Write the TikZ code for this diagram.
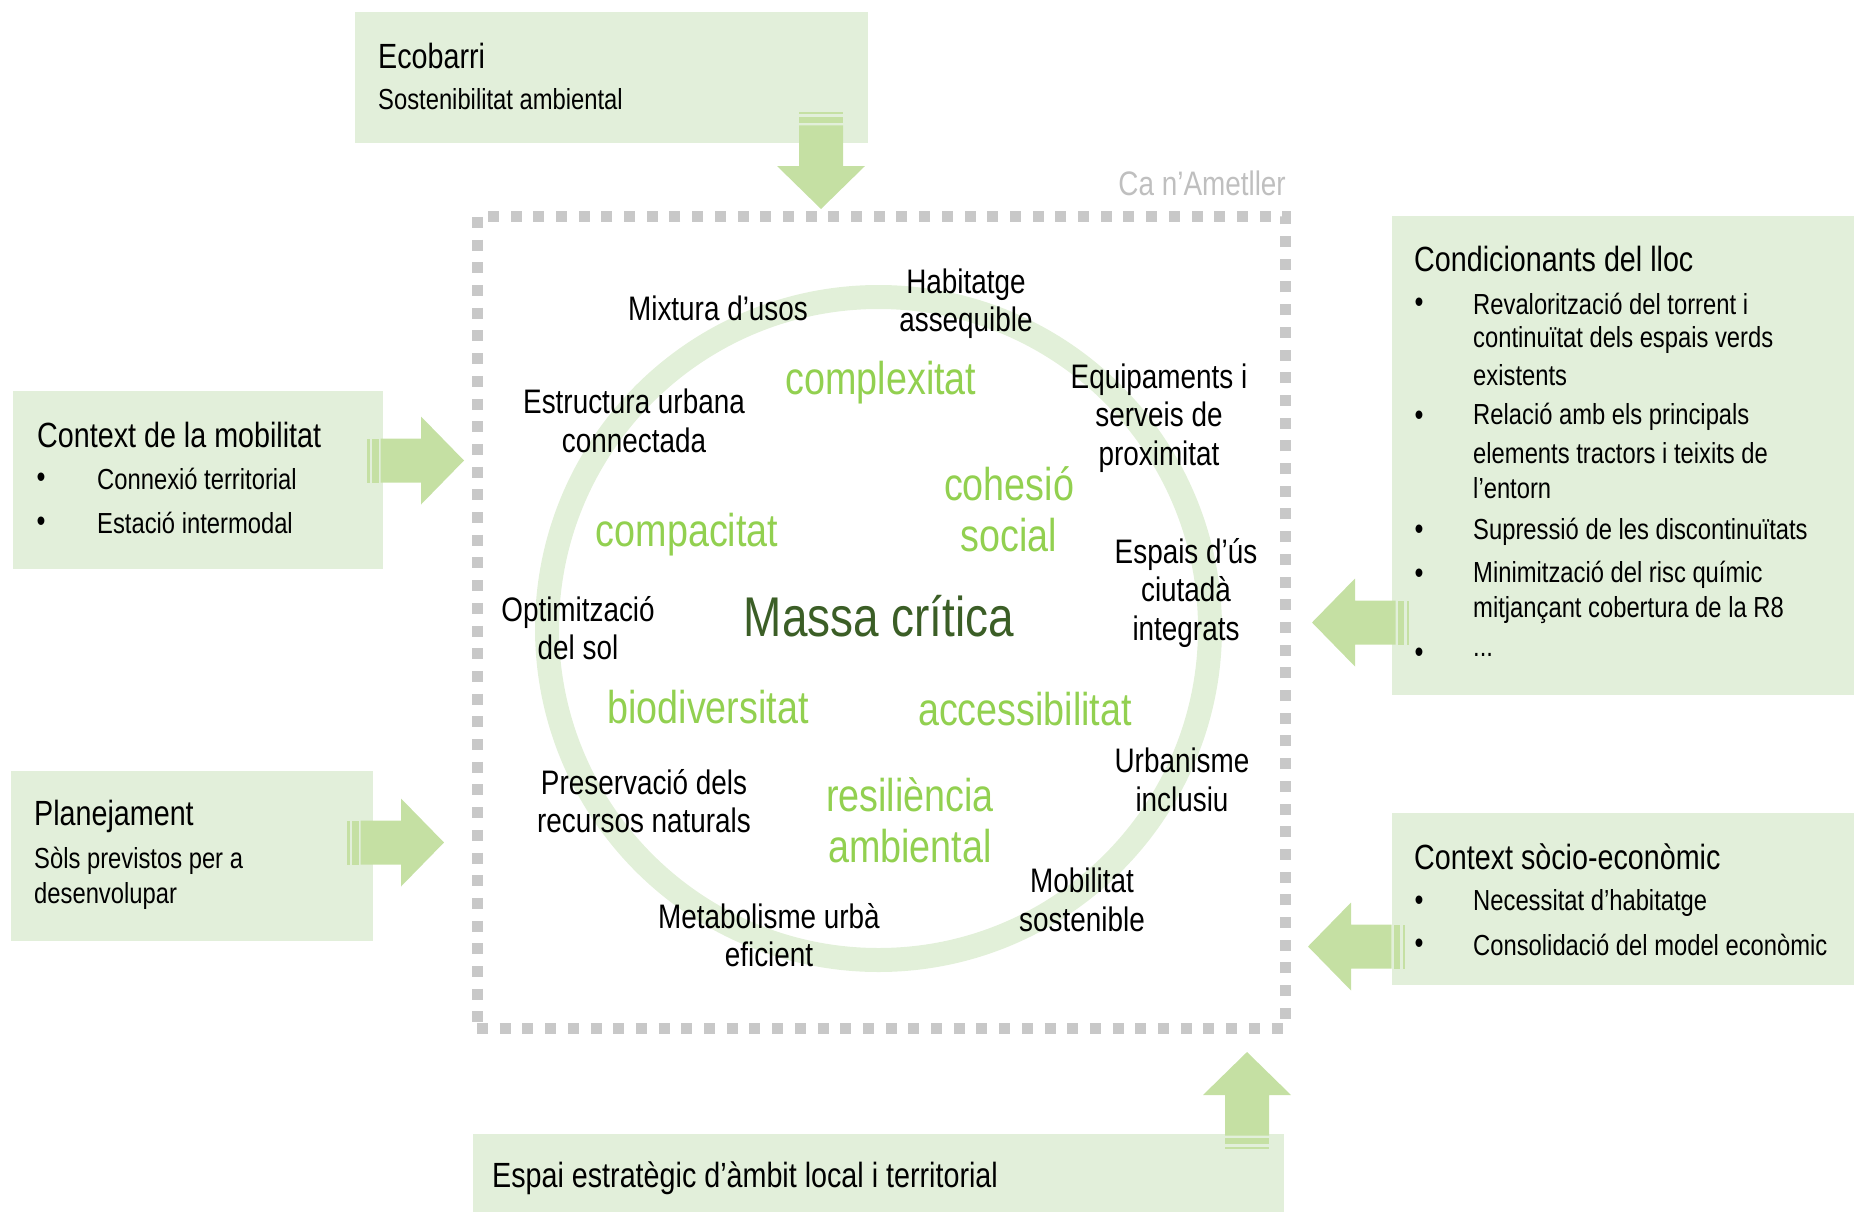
\documentclass[tikz,border=0pt]{standalone}
\usepackage{fontspec}
\setmainfont{Liberation Sans}[FakeStretch=0.82]
\definecolor{boxfill}{HTML}{E2EFDA}
\definecolor{arrowgreen}{HTML}{C5E0A3}
\definecolor{ringgreen}{HTML}{E2F0D9}
\definecolor{keygreen}{HTML}{92D050}
\definecolor{darkgreen}{HTML}{3B5E26}
\definecolor{dotgray}{HTML}{C8C8C8}
\definecolor{labelgray}{HTML}{BFBFBF}
\tikzset{
  infobox/.style={fill=boxfill, draw=none, inner sep=0, anchor=north west},
  lbl/.style={font=\fontsize{34}{38.5}\selectfont, align=center, inner sep=0},
  keyw/.style={font=\fontsize{46}{51}\selectfont, text=keygreen, align=center, inner sep=0},
  boxtxt/.style={font=\fontsize{29}{35}\selectfont, anchor=west, inner sep=0},
  boxttl/.style={font=\fontsize{35}{38}\selectfont, anchor=west, inner sep=0},
  bul/.style={font=\fontsize{31}{35}\selectfont, anchor=center, inner sep=0},
  barrow/.pic={
    \fill[arrowgreen] (0,-22) rectangle (2.5,22);
    \fill[arrowgreen] (5,-22) rectangle (11.5,22);
    \fill[arrowgreen] (13.5,-22) -- (54,-22) -- (54,-44) -- (97,0) -- (54,44) -- (54,22) -- (13.5,22) -- cycle;
  }
}
\begin{document}
\begin{tikzpicture}[x=1pt,y=-1pt]
\useasboundingbox (0,0) rectangle (1854,1212);
% boxes
\node[infobox, minimum width=513pt, minimum height=131pt] (ecobox) at (355,12) {};
\node[infobox, minimum width=370pt, minimum height=178pt] (mobbox) at (13,391) {};
\node[infobox, minimum width=362pt, minimum height=170pt] (planbox) at (11,771) {};
\node[infobox, minimum width=462pt, minimum height=479pt] (condbox) at (1392,216) {};
\node[infobox, minimum width=462pt, minimum height=172pt] (sociobox) at (1392,813) {};
\node[infobox, minimum width=811pt, minimum height=78pt] (espaibox) at (473,1134) {};
% site frame and ring
\node[draw=dotgray, line width=11pt, dash pattern=on 11pt off 11.7pt, minimum width=808pt, minimum height=812pt, inner sep=0] (site) at (881,622) {};
\node[circle, draw=ringgreen, line width=24pt, minimum size=663pt, inner sep=0] (ring) at (878.5,628.5) {};
% arrows
\pic[rotate=-90] (ecoarrow) at (821,112) {barrow};
\pic (mobarrow) at (367,460.5) {barrow};
\pic (planarrow) at (347,842.5) {barrow};
\pic[rotate=180] (condarrow) at (1409,622.5) {barrow};
\pic[rotate=180] (socioarrow) at (1405,946.5) {barrow};
\pic[rotate=90] (espaiarrow) at (1247,1149) {barrow};
% site label
\node[lbl, text=labelgray, anchor=east] (sitelbl) at (1286,183) {Ca n’Ametller};
% circle labels
\node[lbl] (mixt) at (718,308) {Mixtura d’usos};
\node[lbl] (habit) at (966,303.5) {Habitatge\\assequible};
\node[lbl] (equip) at (1159,418) {Equipaments i\\serveis de\\proximitat};
\node[lbl] (estr) at (634,421) {Estructura urbana\\connectada};
\node[lbl] (espais) at (1186,593) {Espais d’ús\\ciutadà\\integrats};
\node[lbl] (optim) at (578,628) {Optimització\\del sol};
\node[lbl] (urban) at (1182,780) {Urbanisme\\inclusiu};
\node[lbl] (preserv) at (644,801) {Preservació dels\\recursos naturals};
\node[lbl] (mobil) at (1082,900) {Mobilitat\\sostenible};
\node[lbl] (metab) at (769,935) {Metabolisme urbà\\eficient};
% keywords
\node[keyw] (complex) at (881,383) {complexitat};
\node[keyw] (cohesio) at (1009,509) {cohesió\\social};
\node[keyw] (compac) at (687,535) {compacitat};
\node[keyw] (biodiv) at (708,707) {biodiversitat};
\node[keyw] (access) at (1025,709) {accessibilitat};
\node[keyw] (resil) at (910,820) {resiliència\\ambiental};
\node[font=\fontsize{56}{60}\selectfont, text=darkgreen, inner sep=0] (massa) at (879,616) {Massa crítica};
% Ecobarri
\node[boxttl] (ecottl) at (378,56) {Ecobarri};
\node[boxtxt] (ecotxt) at (378,99) {Sostenibilitat ambiental};
% Mobilitat
\node[boxttl] (mobttl) at (37,435) {Context de la mobilitat};
\node[bul] (mobb1) at (41,480) {•};
\node[boxtxt] (mobt1) at (97,479) {Connexió territorial};
\node[bul] (mobb2) at (41,524) {•};
\node[boxtxt] (mobt2) at (97,523) {Estació intermodal};
% Planejament
\node[boxttl] (planttl) at (34,816) {Planejament};
\node[boxtxt] (plant1) at (34,861) {Sòls previstos per a};
\node[boxtxt] (plant2) at (34,896) {desenvolupar};
% Condicionants
\node[boxttl] (condttl) at (1414,259) {Condicionants del lloc};
\node[bul] (condb1) at (1419,305) {•};
\node[boxtxt] (condt1) at (1473,304) {Revalorització del torrent i};
\node[boxtxt] (condt2) at (1473,340) {continuïtat dels espais verds};
\node[boxtxt] (condt3) at (1473,375) {existents};
\node[bul] (condb2) at (1419,418) {•};
\node[boxtxt] (condt4) at (1473,417) {Relació amb els principals};
\node[boxtxt] (condt5) at (1473,453) {elements tractors i teixits de};
\node[boxtxt] (condt6) at (1473,488) {l’entorn};
\node[bul] (condb3) at (1419,532) {•};
\node[boxtxt] (condt7) at (1473,532) {Supressió de les discontinuïtats};
\node[bul] (condb4) at (1419,576) {•};
\node[boxtxt] (condt8) at (1473,575) {Minimització del risc químic};
\node[boxtxt] (condt9) at (1473,610) {mitjançant cobertura de la R8};
\node[bul] (condb5) at (1419,655) {•};
\node[boxtxt] (condt10) at (1473,655) {...};
% Socio
\node[boxttl] (socttl) at (1414,857) {Context sòcio-econòmic};
\node[bul] (socb1) at (1419,903) {•};
\node[boxtxt] (soct1) at (1473,903) {Necessitat d’habitatge};
\node[bul] (socb2) at (1419,946) {•};
\node[boxtxt] (soct2) at (1473,945) {Consolidació del model econòmic};
% Espai
\node[boxttl] (espaitxt) at (492,1178) {Espai estratègic d’àmbit local i territorial};
\end{tikzpicture}
\end{document}
